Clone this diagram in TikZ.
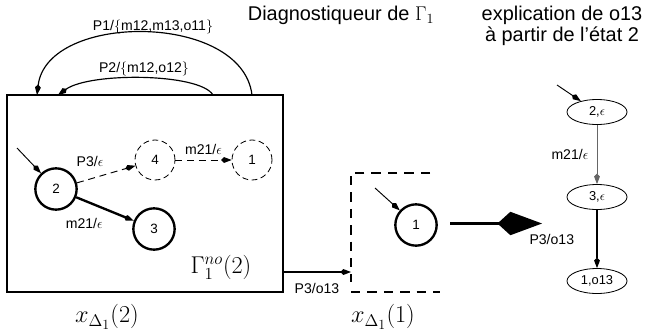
\documentclass[tikz,border=0pt]{standalone}
\usepackage{fix-cm}
\usepackage{fontspec}
\setmainfont{Liberation Sans}
\usetikzlibrary{arrows.meta,positioning,shapes.geometric}

\begin{document}
\begin{tikzpicture}[
    x=0.3mm, y=-0.3mm,
    state/.style={
        draw,
        circle,
        line width=2pt,
        minimum size=12.4mm,
        inner sep=0pt,
        font=\fontsize{11.5}{13}\selectfont
    },
    ghost/.style={
        state,
        line width=0.7pt,
        minimum size=12mm,
        dash pattern=on 5pt off 3pt
    },
    pair/.style={
        draw,
        ellipse,
        line width=0.7pt,
        minimum width=18mm,
        minimum height=7.5mm,
        inner sep=0pt,
        font=\fontsize{11}{13}\selectfont
    },
    tag/.style={
        font=\fontsize{12}{14}\selectfont,
        inner sep=1pt
    },
    arrow/.style={
        -{Kite[length=9pt,width=5pt,inset=2.5pt]},
        line width=0.8pt
    }
]

\useasboundingbox (0,0) rectangle (657,333);

% Titles
\node[font=\fontsize{17}{19}\selectfont] at (341,15) (title) {Diagnostiqueur de $\Gamma_1$};
\node[font=\fontsize{17}{18}\selectfont, align=center] at (562,26) (expl)
    {explication de o13\\à partir de l'état 2};

% Left box: diagnoser state x(2)
\node[draw, line width=1.2pt, minimum width=82.8mm, minimum height=59.1mm, inner sep=0pt]
    at (145,193.5) (gbox) {};
\node[state] at (56,189)  (n2) {2};
\node[state] at (154,229) (n3) {3};
\node[ghost] at (155,160) (n4) {4};
\node[ghost] at (252,160) (n1) {1};
\node[font=\huge] at (221,267) (gno) {$\Gamma_1^{no}(2)$};
\node[font=\huge] at (107,317) (xd2) {$x_{\Delta_1}(2)$};

\coordinate (in2) at (17,148);
\draw[arrow] (in2) -- (n2);
\draw[arrow, dash pattern=on 6pt off 4pt] (n2) -- (n4)
    node[tag, midway, above left=5pt and 1pt] {P3/$\epsilon$};
\draw[arrow, dash pattern=on 6pt off 4pt] (n4) -- (n1)
    node[tag, midway, above=3pt] {m21/$\epsilon$};
\draw[arrow, line width=2pt] (n2) -- (n3)
    node[tag, midway, below left=6pt and 0pt] {m21/$\epsilon$};

% Loops over the box
\coordinate (p1a) at (252,95);
\coordinate (p1b) at (37,95);
\coordinate (p2a) at (213,95);
\coordinate (p2b) at (58,95);
\draw[arrow, line width=1pt] (p1a) .. controls (242,12) and (47,12) .. (p1b);
\draw[arrow, line width=1pt] (p2a) .. controls (200,73) and (90,72) .. (p2b);
\node[tag] at (153,27) (l1) {P1/$\{$m12,m13,o11$\}$};
\node[tag] at (144,69) (l2) {P2/$\{$m12,o12$\}$};

% Dashed box: state x(1)
\draw[line width=1pt, dash pattern=on 8pt off 6pt] (430,173) -- (351,173) -- (351,282);
\draw[line width=1pt, dash pattern=on 8pt off 6pt] (351,292) -- (440,292);
\node[state] at (416,225) (m1) {1};
\coordinate (inm) at (375,188);
\draw[arrow] (inm) -- (m1);
\node[font=\huge] at (383,317) (xd1) {$x_{\Delta_1}(1)$};

\coordinate (oa) at (283,272);
\coordinate (ob) at (351,272);
\draw[arrow, line width=1pt] (oa) -- (ob)
    node[tag, midway, below=8pt] {P3/o13};

% Big arrow
\coordinate (ba) at (450,223.5);
\coordinate (bb) at (542,223.5);
\draw[line width=3pt, -{Kite[length=38pt,width=20pt,inset=11pt]}] (ba) -- (bb);

% Explanation path
\node[pair] at (597,112) (e2) {2,$\epsilon$};
\node[pair] at (597,197) (e3) {3,$\epsilon$};
\node[pair] at (597,281) (e1) {1,o13};
\coordinate (ine) at (557,85);
\draw[arrow] (ine) -- (e2);
\draw[arrow, black!60] (e2) -- (e3)
    node[tag, text=black, midway, left=6pt] {m21/$\epsilon$};
\draw[arrow, line width=1.1pt] (e3) -- (e1)
    node[tag, midway, left=18pt] {P3/o13};

\end{tikzpicture}
\end{document}
